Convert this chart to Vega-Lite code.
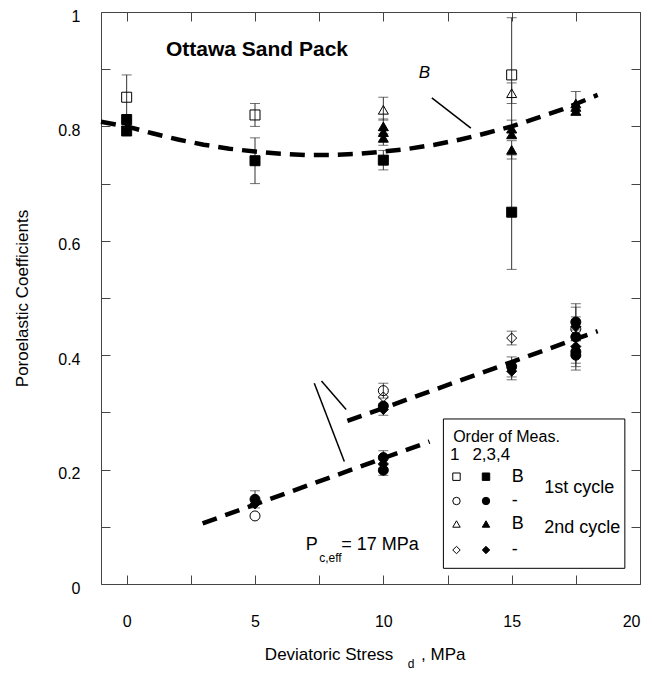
{
  "$schema": "https://vega.github.io/schema/vega-lite/v6.json",
  "width": 539,
  "height": 572,
  "autosize": {"type": "none"},
  "padding": {"left": 101, "top": 12, "right": 13, "bottom": 89},
  "background": "white",
  "config": {
    "view": {"stroke": "#444", "strokeWidth": 1},
    "font": "Liberation Sans",
    "axis": {
      "domain": false, "grid": false, "tickColor": "#444", "tickSize": -9,
      "labelFont": "Liberation Sans", "labelFontSize": 16, "labelColor": "black",
      "titleFont": "Liberation Sans", "titleFontSize": 17, "titleFontWeight": "normal", "titleColor": "black"
    }
  },
  "datasets": {
    "pts": [
      {"x": 0, "y": 0.851, "s": "sq", "f": "open", "lo": 0.81, "hi": 0.89},
      {"x": 0, "y": 0.812, "s": "sq", "f": "filled"},
      {"x": 0, "y": 0.792, "s": "sq", "f": "filled"},
      {"x": 5, "y": 0.82, "s": "sq", "f": "open", "lo": 0.80, "hi": 0.84},
      {"x": 5, "y": 0.74, "s": "sq", "f": "filled", "lo": 0.70, "hi": 0.78},
      {"x": 10, "y": 0.829, "s": "tr", "f": "open", "lo": 0.811, "hi": 0.851},
      {"x": 10, "y": 0.80, "s": "tr", "f": "filled", "lo": 0.787, "hi": 0.813},
      {"x": 10, "y": 0.79, "s": "tr", "f": "filled"},
      {"x": 10, "y": 0.78, "s": "tr", "f": "filled", "lo": 0.767, "hi": 0.793},
      {"x": 10, "y": 0.741, "s": "sq", "f": "filled", "lo": 0.724, "hi": 0.758},
      {"x": 15, "y": 0.89, "s": "sq", "f": "open", "lo": 0.79, "hi": 0.99},
      {"x": 15, "y": 0.858, "s": "tr", "f": "open", "lo": 0.84, "hi": 0.876},
      {"x": 15, "y": 0.796, "s": "tr", "f": "filled", "lo": 0.781, "hi": 0.811},
      {"x": 15, "y": 0.786, "s": "tr", "f": "filled"},
      {"x": 15, "y": 0.759, "s": "tr", "f": "filled", "lo": 0.743, "hi": 0.775},
      {"x": 15, "y": 0.65, "s": "sq", "f": "filled", "lo": 0.55, "hi": 0.75},
      {"x": 17.5, "y": 0.84, "s": "tr", "f": "filled", "lo": 0.82, "hi": 0.861},
      {"x": 17.5, "y": 0.834, "s": "tr", "f": "filled"},
      {"x": 17.5, "y": 0.827, "s": "tr", "f": "filled"},
      {"x": 5, "y": 0.148, "s": "ci", "f": "filled", "lo": 0.133, "hi": 0.163},
      {"x": 5, "y": 0.14, "s": "di", "f": "filled"},
      {"x": 5, "y": 0.119, "s": "ci", "f": "open"},
      {"x": 10, "y": 0.338, "s": "ci", "f": "open", "lo": 0.325, "hi": 0.351},
      {"x": 10, "y": 0.327, "s": "di", "f": "open"},
      {"x": 10, "y": 0.311, "s": "ci", "f": "filled"},
      {"x": 10, "y": 0.305, "s": "di", "f": "filled", "lo": 0.295, "hi": 0.315},
      {"x": 10, "y": 0.221, "s": "ci", "f": "filled", "lo": 0.209, "hi": 0.233},
      {"x": 10, "y": 0.21, "s": "di", "f": "filled"},
      {"x": 10, "y": 0.199, "s": "ci", "f": "filled", "lo": 0.19, "hi": 0.208},
      {"x": 15, "y": 0.43, "s": "di", "f": "open", "lo": 0.418, "hi": 0.442},
      {"x": 15, "y": 0.38, "s": "ci", "f": "filled", "lo": 0.362, "hi": 0.397},
      {"x": 15, "y": 0.372, "s": "di", "f": "filled", "lo": 0.357, "hi": 0.387},
      {"x": 17.5, "y": 0.458, "s": "ci", "f": "filled", "lo": 0.426, "hi": 0.49},
      {"x": 17.5, "y": 0.45, "s": "di", "f": "filled", "lo": 0.416, "hi": 0.484},
      {"x": 17.5, "y": 0.446, "s": "ci", "f": "open", "lo": 0.425, "hi": 0.467},
      {"x": 17.5, "y": 0.432, "s": "ci", "f": "filled"},
      {"x": 17.5, "y": 0.415, "s": "di", "f": "filled", "lo": 0.386, "hi": 0.444},
      {"x": 17.5, "y": 0.406, "s": "ci", "f": "filled", "lo": 0.38, "hi": 0.432},
      {"x": 17.5, "y": 0.40, "s": "ci", "f": "filled", "lo": 0.374, "hi": 0.426}
    ],
    "fit": [
      {"c": "B", "x": -1, "y": 0.808}, {"c": "B", "x": 0, "y": 0.8}, {"c": "B", "x": 1, "y": 0.788},
      {"c": "B", "x": 2, "y": 0.777}, {"c": "B", "x": 3, "y": 0.768}, {"c": "B", "x": 4, "y": 0.761},
      {"c": "B", "x": 5, "y": 0.756}, {"c": "B", "x": 6, "y": 0.752}, {"c": "B", "x": 7, "y": 0.75},
      {"c": "B", "x": 8, "y": 0.75}, {"c": "B", "x": 9, "y": 0.752}, {"c": "B", "x": 10, "y": 0.756},
      {"c": "B", "x": 11, "y": 0.761}, {"c": "B", "x": 12, "y": 0.768}, {"c": "B", "x": 13, "y": 0.777},
      {"c": "B", "x": 14, "y": 0.788}, {"c": "B", "x": 15, "y": 0.8}, {"c": "B", "x": 16, "y": 0.815},
      {"c": "B", "x": 17, "y": 0.83}, {"c": "B", "x": 18.35, "y": 0.855},
      {"c": "L1", "x": 8.6, "y": 0.285}, {"c": "L1", "x": 18.35, "y": 0.442},
      {"c": "L2", "x": 2.96, "y": 0.106}, {"c": "L2", "x": 11.8, "y": 0.249}
    ],
    "lead": [
      {"x": 11.89, "y": 0.85, "x2": 13.41, "y2": 0.797},
      {"x": 7.31, "y": 0.351, "x2": 8.48, "y2": 0.214},
      {"x": 7.59, "y": 0.355, "x2": 8.55, "y2": 0.305}
    ],
    "leg": [
      {"x": 12.85, "y": 0.1876, "s": "sq", "f": "open"},
      {"x": 14.0, "y": 0.1876, "s": "sq", "f": "filled"},
      {"x": 12.85, "y": 0.1451, "s": "ci", "f": "open"},
      {"x": 14.0, "y": 0.1451, "s": "ci", "f": "filled"},
      {"x": 12.85, "y": 0.1049, "s": "tr", "f": "open"},
      {"x": 14.0, "y": 0.1049, "s": "tr", "f": "filled"},
      {"x": 12.85, "y": 0.0594, "s": "di", "f": "open"},
      {"x": 14.0, "y": 0.0594, "s": "di", "f": "filled"}
    ],
    "t12": [
      {"x": 7.5, "y": 0.045, "t": "c,eff"},
      {"x": 10.95, "y": -0.14, "t": "d"}
    ],
    "t16": [
      {"x": 12.72, "y": 0.2575, "t": "Order of Meas."}
    ],
    "t17": [
      {"x": 12.6, "y": 0.2255, "t": "1"},
      {"x": 13.47, "y": 0.2255, "t": "2,3,4"},
      {"x": 11.47, "y": -0.124, "t": ",  MPa"}
    ],
    "t18": [
      {"x": 15.0, "y": 0.1876, "t": "B"},
      {"x": 15.0, "y": 0.1451, "t": "-"},
      {"x": 15.0, "y": 0.1049, "t": "B"},
      {"x": 15.0, "y": 0.0594, "t": "-"},
      {"x": 16.27, "y": 0.167, "t": "1st cycle"},
      {"x": 16.27, "y": 0.098, "t": "2nd cycle"},
      {"x": 6.98, "y": 0.068, "t": "P"},
      {"x": 8.36, "y": 0.068, "t": "= 17 MPa"}
    ]
  },
  "layer": [
    {
      "data": {"name": "pts"},
      "transform": [{"filter": "isValid(datum.lo)"}],
      "mark": {"type": "errorbar", "color": "#333", "ticks": {"size": 10, "color": "#333"}},
      "encoding": {
        "x": {"field": "x", "type": "quantitative", "scale": {"domain": [-1, 20], "nice": false, "zero": false},
          "axis": {"orient": "bottom", "values": [0, 2.5, 5, 7.5, 10, 12.5, 15, 17.5, 20],
            "labelExpr": "datum.value % 5 == 0 ? datum.label : ''", "labelPadding": 38, "title": null}},
        "y": {"field": "lo", "type": "quantitative", "scale": {"domain": [0, 1], "nice": false, "zero": false},
          "axis": {"orient": "left", "values": [0, 0.1, 0.2, 0.3, 0.4, 0.5, 0.6, 0.7, 0.8, 0.9, 1],
            "labelExpr": "round(datum.value*10) % 2 == 0 ? format(datum.value, '~g') : ''",
            "labelPadding": 30, "labelOffset": 4, "title": "Poroelastic Coefficients", "titlePadding": 26}},
        "y2": {"field": "hi"}
      }
    },
    {
      "data": {"name": "pts"},
      "mark": {"type": "point", "opacity": 0},
      "encoding": {
        "x": {"field": "x", "type": "quantitative", "scale": {"domain": [-1, 20], "nice": false, "zero": false},
          "axis": {"orient": "top", "values": [0, 2.5, 5, 7.5, 10, 12.5, 15, 17.5, 20], "labels": false, "title": null}},
        "y": {"field": "y", "type": "quantitative", "scale": {"domain": [0, 1], "nice": false, "zero": false},
          "axis": {"orient": "right", "values": [0, 0.1, 0.2, 0.3, 0.4, 0.5, 0.6, 0.7, 0.8, 0.9, 1], "labels": false, "title": null}}
      }
    },
    {
      "data": {"name": "fit"},
      "mark": {"type": "line", "color": "black", "strokeWidth": 4.5, "strokeDash": [15, 9], "strokeCap": "butt"},
      "encoding": {
        "x": {"field": "x", "type": "quantitative", "scale": {"domain": [-1, 20], "nice": false, "zero": false}, "axis": null},
        "y": {"field": "y", "type": "quantitative", "scale": {"domain": [0, 1], "nice": false, "zero": false}, "axis": null},
        "detail": {"field": "c"}
      }
    },
    {
      "data": {"name": "lead"},
      "mark": {"type": "rule", "color": "black", "strokeWidth": 1.5},
      "encoding": {
        "x": {"field": "x", "type": "quantitative", "scale": {"domain": [-1, 20], "nice": false, "zero": false}, "axis": null},
        "y": {"field": "y", "type": "quantitative", "scale": {"domain": [0, 1], "nice": false, "zero": false}, "axis": null},
        "x2": {"field": "x2"},
        "y2": {"field": "y2"}
      }
    },
    {
      "data": {"name": "pts"},
      "mark": {"type": "point", "filled": true, "fill": "black", "stroke": "black", "strokeWidth": 1, "size": 100, "opacity": 1},
      "encoding": {
        "x": {"field": "x", "type": "quantitative", "scale": {"domain": [-1, 20], "nice": false, "zero": false}, "axis": null},
        "y": {"field": "y", "type": "quantitative", "scale": {"domain": [0, 1], "nice": false, "zero": false}, "axis": null},
        "shape": {"field": "s", "type": "nominal", "scale": {"domain": ["sq", "ci", "tr", "di"], "range": ["square", "circle", "triangle-up", "diamond"]}, "legend": null},
        "fillOpacity": {"field": "f", "type": "ordinal", "scale": {"domain": ["open", "filled"], "range": [0, 1]}, "legend": null}
      }
    },
    {
      "data": {"values": [{"x": 12.34, "x2": 19.41, "y": 0.0274, "y2": 0.2885}]},
      "mark": {"type": "rect", "fill": "white", "stroke": "black", "strokeWidth": 1},
      "encoding": {
        "x": {"field": "x", "type": "quantitative", "scale": {"domain": [-1, 20], "nice": false, "zero": false}, "axis": null},
        "y": {"field": "y", "type": "quantitative", "scale": {"domain": [0, 1], "nice": false, "zero": false}, "axis": null},
        "x2": {"field": "x2"},
        "y2": {"field": "y2"}
      }
    },
    {
      "data": {"name": "leg"},
      "mark": {"type": "point", "filled": true, "fill": "black", "stroke": "black", "strokeWidth": 1, "size": 55, "opacity": 1},
      "encoding": {
        "x": {"field": "x", "type": "quantitative", "scale": {"domain": [-1, 20], "nice": false, "zero": false}, "axis": null},
        "y": {"field": "y", "type": "quantitative", "scale": {"domain": [0, 1], "nice": false, "zero": false}, "axis": null},
        "shape": {"field": "s", "type": "nominal", "scale": {"domain": ["sq", "ci", "tr", "di"], "range": ["square", "circle", "triangle-up", "diamond"]}, "legend": null},
        "fillOpacity": {"field": "f", "type": "ordinal", "scale": {"domain": ["open", "filled"], "range": [0, 1]}, "legend": null}
      }
    },
    {
      "data": {"name": "t12"},
      "mark": {"type": "text", "align": "left", "baseline": "middle", "font": "Liberation Sans", "fontSize": 12, "color": "black"},
      "encoding": {
        "x": {"field": "x", "type": "quantitative", "scale": {"domain": [-1, 20], "nice": false, "zero": false}, "axis": null},
        "y": {"field": "y", "type": "quantitative", "scale": {"domain": [0, 1], "nice": false, "zero": false}, "axis": null},
        "text": {"field": "t"}
      }
    },
    {
      "data": {"name": "t16"},
      "mark": {"type": "text", "align": "left", "baseline": "middle", "font": "Liberation Sans", "fontSize": 16, "color": "black"},
      "encoding": {
        "x": {"field": "x", "type": "quantitative", "scale": {"domain": [-1, 20], "nice": false, "zero": false}, "axis": null},
        "y": {"field": "y", "type": "quantitative", "scale": {"domain": [0, 1], "nice": false, "zero": false}, "axis": null},
        "text": {"field": "t"}
      }
    },
    {
      "data": {"name": "t17"},
      "mark": {"type": "text", "align": "left", "baseline": "middle", "font": "Liberation Sans", "fontSize": 17, "color": "black"},
      "encoding": {
        "x": {"field": "x", "type": "quantitative", "scale": {"domain": [-1, 20], "nice": false, "zero": false}, "axis": null},
        "y": {"field": "y", "type": "quantitative", "scale": {"domain": [0, 1], "nice": false, "zero": false}, "axis": null},
        "text": {"field": "t"}
      }
    },
    {
      "data": {"name": "t18"},
      "mark": {"type": "text", "align": "left", "baseline": "middle", "font": "Liberation Sans", "fontSize": 18, "color": "black"},
      "encoding": {
        "x": {"field": "x", "type": "quantitative", "scale": {"domain": [-1, 20], "nice": false, "zero": false}, "axis": null},
        "y": {"field": "y", "type": "quantitative", "scale": {"domain": [0, 1], "nice": false, "zero": false}, "axis": null},
        "text": {"field": "t"}
      }
    },
    {
      "data": {"values": [{"x": 10.39, "y": -0.124, "t": "Deviatoric Stress"}]},
      "mark": {"type": "text", "align": "right", "baseline": "middle", "font": "Liberation Sans", "fontSize": 17, "color": "black"},
      "encoding": {
        "x": {"field": "x", "type": "quantitative", "scale": {"domain": [-1, 20], "nice": false, "zero": false}, "axis": null},
        "y": {"field": "y", "type": "quantitative", "scale": {"domain": [0, 1], "nice": false, "zero": false}, "axis": null},
        "text": {"field": "t"}
      }
    },
    {
      "data": {"values": [{"x": 1.53, "y": 0.934, "t": "Ottawa Sand Pack"}]},
      "mark": {"type": "text", "align": "left", "baseline": "middle", "font": "Liberation Sans", "fontWeight": "bold", "fontSize": 21, "color": "black"},
      "encoding": {
        "x": {"field": "x", "type": "quantitative", "scale": {"domain": [-1, 20], "nice": false, "zero": false}, "axis": null},
        "y": {"field": "y", "type": "quantitative", "scale": {"domain": [0, 1], "nice": false, "zero": false}, "axis": null},
        "text": {"field": "t"}
      }
    },
    {
      "data": {"values": [{"x": 11.6, "y": 0.893, "t": "B"}]},
      "mark": {"type": "text", "align": "center", "baseline": "middle", "font": "Liberation Sans", "fontStyle": "italic", "fontSize": 17, "color": "black"},
      "encoding": {
        "x": {"field": "x", "type": "quantitative", "scale": {"domain": [-1, 20], "nice": false, "zero": false}, "axis": null},
        "y": {"field": "y", "type": "quantitative", "scale": {"domain": [0, 1], "nice": false, "zero": false}, "axis": null},
        "text": {"field": "t"}
      }
    }
  ],
  "resolve": {"axis": {"x": "independent", "y": "independent"}}
}
